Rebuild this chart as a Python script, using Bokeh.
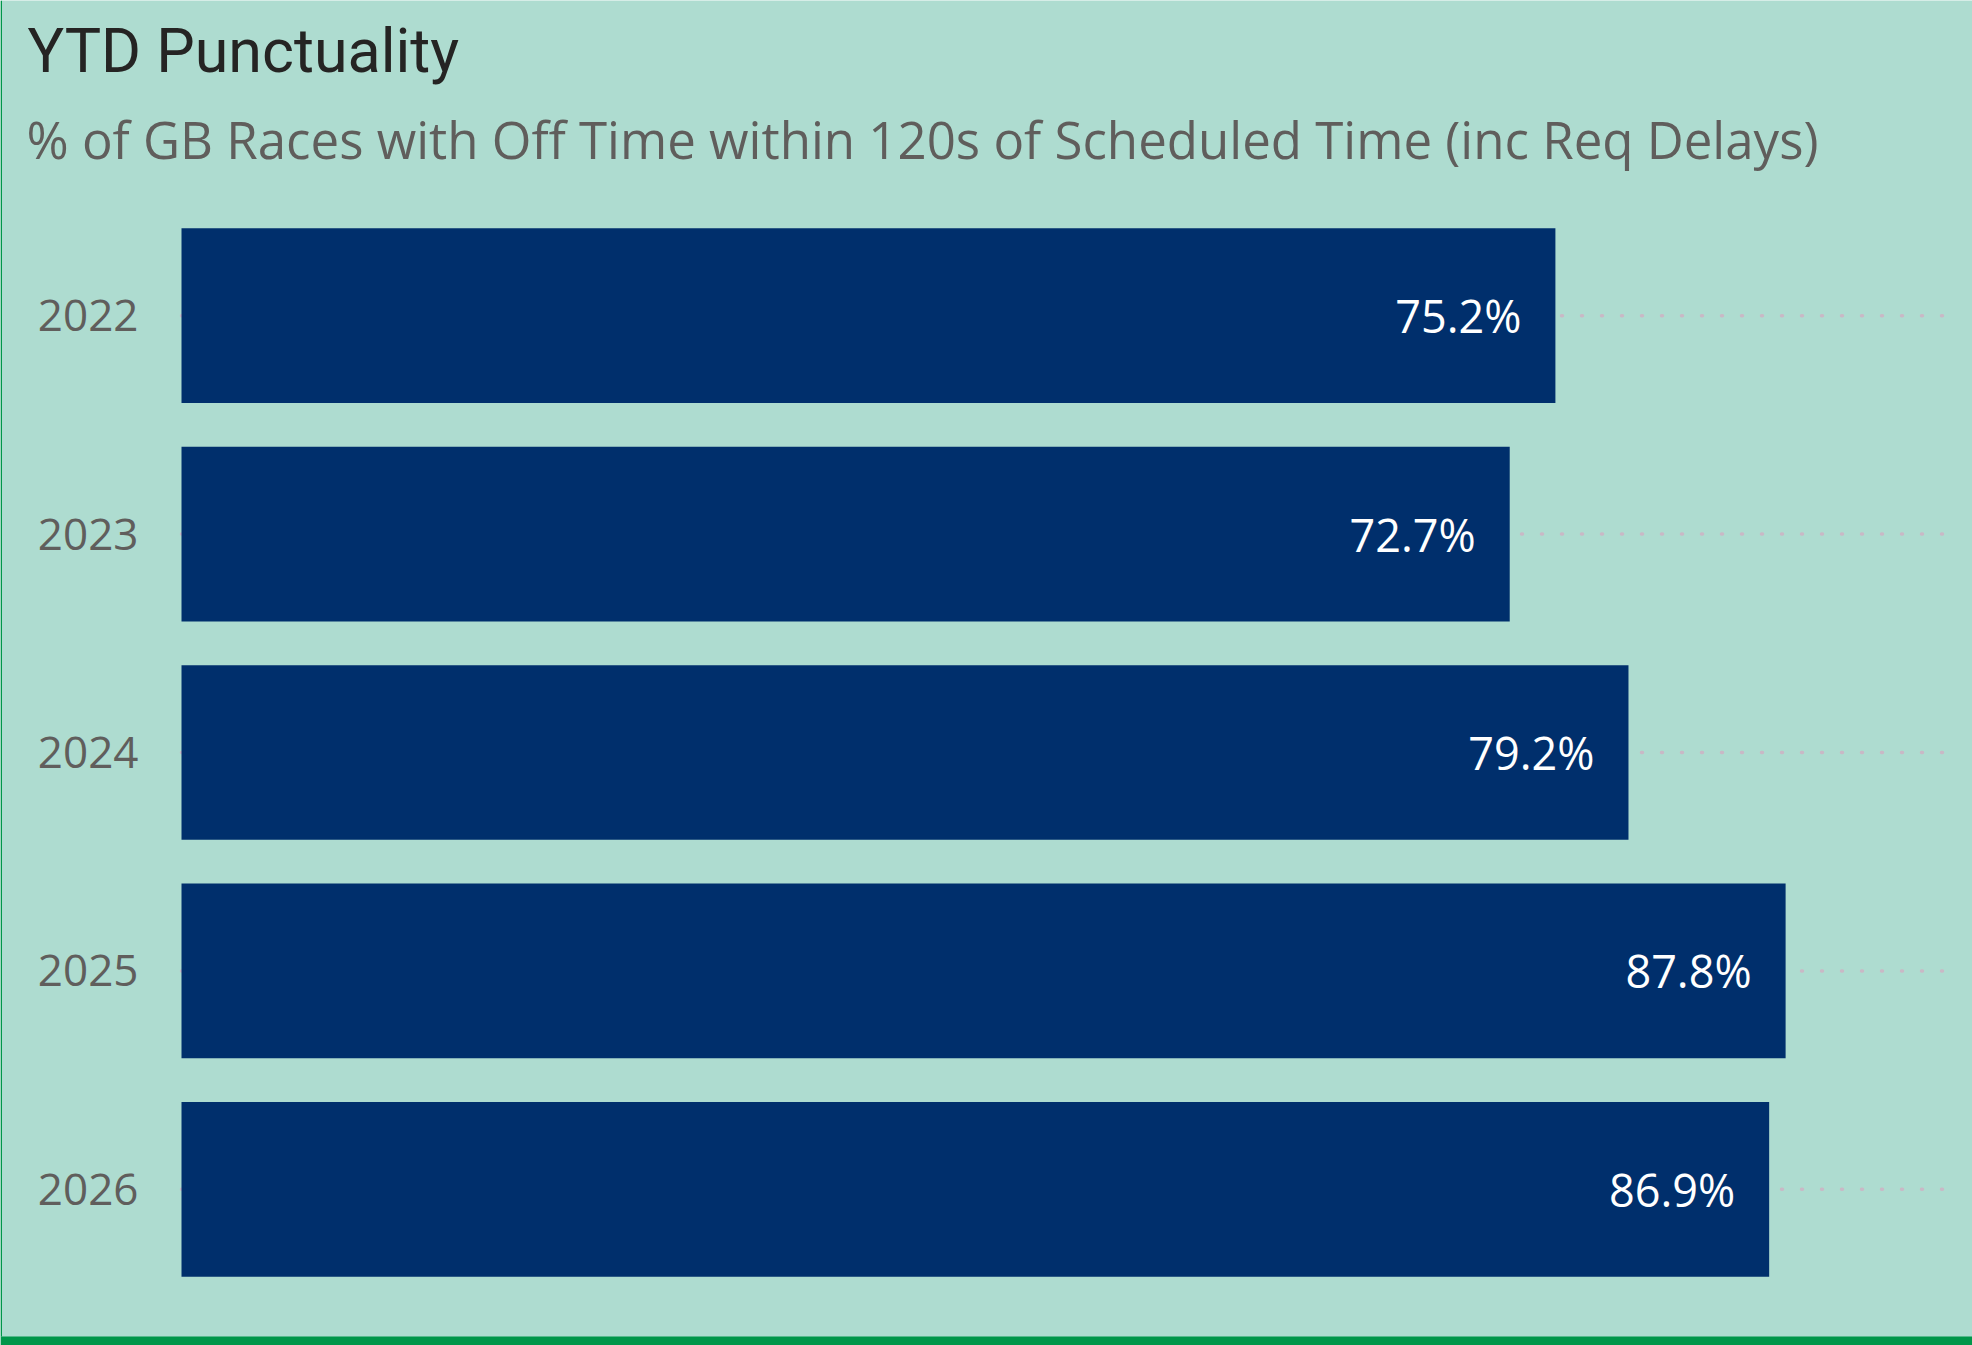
from bokeh.plotting import figure
from bokeh.models import Range1d, Label, ColumnDataSource, BoxAnnotation
from bokeh.core.properties import value
from bokeh.embed import file_html
from bokeh.resources import INLINE

# ---- data ----
years = ["2022", "2023", "2024", "2025", "2026"]
punctuality = [75.2, 72.7, 79.2, 87.8, 86.9]
title_text = "YTD Punctuality"
subtitle_text = "% of GB Races with Off Time within 120s of Scheduled Time (inc Req Delays)"

# ---- style / layout ----
BG = "#AEDCD0"
BAR = "#002F6C"
GREEN = "#00964A"
FONT = "Open Sans"
W, H = 1972, 1345
X0, SX = 181, 18.27        # pixel of 0 %, pixels per 1 %
T, PITCH = 206, 218.4      # top of category band, pixels per category
x_max = 96.5


def px_x(px):
    return (px - X0) / SX


def px_y(px):
    return (px - T) / PITCH - 0.5


rows = list(range(len(years)))
labels = [f"{v:.1f}%" for v in punctuality]
src = ColumnDataSource(dict(row=rows, year=years, val=punctuality, lab=labels,
                            zero=[0] * len(years), end=[x_max] * len(years)))

p = figure(width=W, height=H, output_backend="svg", toolbar_location=None,
           x_range=Range1d(px_x(0), px_x(W)), y_range=Range1d(px_y(H), px_y(0)),
           min_border=0, min_border_left=0, min_border_right=0,
           min_border_top=0, min_border_bottom=0)
p.background_fill_color = BG
p.border_fill_color = BG
p.outline_line_color = None
p.grid.visible = False
p.axis.visible = False

# dotted reference lines
p.segment(x0="zero", x1="end", y0="row", y1="row", source=src,
          line_color="#C9B9C6", line_width=3.5, line_dash="1 19", line_cap="round")

p.hbar(y="row", left=0, right="val", height=0.8, source=src,
       fill_color=BAR, line_color=None)

# category labels
p.text(x="zero", y="row", text="year", source=src, x_offset=-43,
       text_align="right", text_baseline="middle", text_color="#605E5C",
       text_font=value(FONT), text_font_size="44px")

# value labels
p.text(x="val", y="row", text="lab", source=src, x_offset=-34,
       text_align="right", text_baseline="middle", text_color="white",
       text_font=value(FONT), text_font_size="45px")

p.add_layout(Label(x=px_x(27), y=px_y(50), text=title_text,
                   text_font="Roboto", text_font_size="61px",
                   text_color="#252423", text_baseline="alphabetic"))
p.add_layout(Label(x=px_x(26), y=px_y(138), text=subtitle_text, text_font=FONT,
                   text_font_size="51px", text_color="#605E5C",
                   text_baseline="alphabetic"))

# panel border (green edge at left and bottom)
p.add_layout(BoxAnnotation(left=px_x(0), right=px_x(1.5), top=px_y(0),
                           bottom=px_y(1336), fill_color=GREEN, fill_alpha=1,
                           line_color=None))
p.add_layout(BoxAnnotation(left=px_x(0), right=px_x(W), top=px_y(1336),
                           bottom=px_y(H), fill_color=GREEN, fill_alpha=1,
                           line_color=None))

open("out.html", "w").write(file_html(p, INLINE))
